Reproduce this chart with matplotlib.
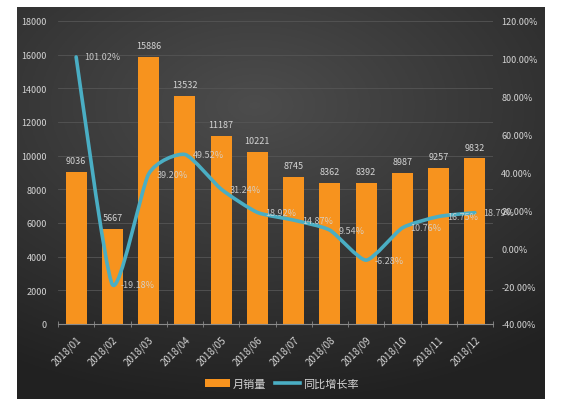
import numpy as np
import matplotlib
matplotlib.use("Agg")
import matplotlib.pyplot as plt
from matplotlib.path import Path
from matplotlib.patches import PathPatch, Patch
from matplotlib.lines import Line2D

plt.rcParams["font.family"] = ["Noto Sans CJK SC", "DejaVu Sans"]

months = ["2018/01", "2018/02", "2018/03", "2018/04", "2018/05", "2018/06",
          "2018/07", "2018/08", "2018/09", "2018/10", "2018/11", "2018/12"]
sales = [9036, 5667, 15886, 13532, 11187, 10221, 8745, 8362, 8392, 8987, 9257, 9832]
growth = [101.02, -19.18, 39.20, 49.52, 31.24, 18.92, 14.87, 9.54, -6.28, 10.76, 16.75, 18.79]

BAR = "#f7931e"
LINE = "#4aaec4"
TXT = "#d4d4d4"


def smooth_path(xs, ys, t=0.3):
    """Catmull-Rom style bezier through the points (like Excel's smoothed line)."""
    xs = np.asarray(xs, float)
    ys = np.asarray(ys, float)
    verts = [(xs[0], ys[0])]
    codes = [Path.MOVETO]
    n = len(xs)
    for i in range(n - 1):
        p0 = (xs[max(i - 1, 0)], ys[max(i - 1, 0)])
        p1 = (xs[i], ys[i])
        p2 = (xs[i + 1], ys[i + 1])
        p3 = (xs[min(i + 2, n - 1)], ys[min(i + 2, n - 1)])
        c1 = (p1[0] + (p2[0] - p0[0]) * t / 3, p1[1] + (p2[1] - p0[1]) * t / 3)
        c2 = (p2[0] - (p3[0] - p1[0]) * t / 3, p2[1] - (p3[1] - p1[1]) * t / 3)
        verts += [c1, c2, p2]
        codes += [Path.CURVE4] * 3
    return Path(verts, codes)


fig = plt.figure(figsize=(5.69, 4.06), dpi=100)
fig.patch.set_facecolor("white")

# dark panel with gradient
bg = fig.add_axes([17 / 569, 1 - 400 / 406, (545 - 17) / 569, (400 - 8) / 406])
gy, gx = np.mgrid[0:1:200j, 0:1:200j]
r = np.sqrt(((gx - 0.45) * 1.1) ** 2 + ((gy - 0.25) * 1.3) ** 2)
val = 0.30 - 0.17 * np.clip(r, 0, 1)
bg.imshow(np.dstack([val, val, val]), aspect="auto", extent=[0, 1, 0, 1], origin="upper")
bg.set_axis_off()

ax = fig.add_axes([58 / 569, 1 - 325 / 406, (493 - 58) / 569, (325 - 22) / 406])
ax.patch.set_alpha(0)
x = np.arange(len(months))
ax.bar(x, sales, width=0.58, color=BAR, zorder=2)
ax.set_xlim(-0.5, len(months) - 0.5)
ax.set_ylim(0, 18000)
ax.set_yticks(np.arange(0, 18001, 2000))
ax.grid(axis="y", color="#555555", linewidth=0.6, zorder=0)
for s in ["top", "right", "left"]:
    ax.spines[s].set_visible(False)
ax.spines["bottom"].set_color("#8a8a8a")
ax.tick_params(axis="y", length=0, colors=TXT, labelsize=6.5, pad=8)
ax.set_xticks(x)
ax.set_xticklabels(months, rotation=45, ha="right", rotation_mode="anchor")
ax.tick_params(axis="x", length=0, colors=TXT, labelsize=7, pad=7)
ax.set_xticks(np.arange(-0.5, len(months)), minor=True)
ax.tick_params(axis="x", which="minor", length=4, direction="inout", color="#8a8a8a")
for xi, v in zip(x, sales):
    ax.annotate(str(v), (xi, v), xytext=(0, 5), textcoords="offset points",
                ha="center", va="bottom", color=TXT, fontsize=6.5)

ax2 = ax.twinx()
ax2.set_ylim(-40, 120)
ax2.set_yticks(np.arange(-40, 121, 20))
ax2.set_yticklabels([f"{t:.2f}%" for t in np.arange(-40, 121, 20)])
ax2.tick_params(axis="y", length=0, colors=TXT, labelsize=6.5, pad=6)
for s in ax2.spines.values():
    s.set_visible(False)
ax2.add_patch(PathPatch(smooth_path(x, growth), facecolor="none", edgecolor=LINE,
                        linewidth=2.6, zorder=3, capstyle="round", joinstyle="round"))
for xi, v in zip(x, growth):
    ax2.annotate(f"{v:.2f}%", (xi, v), xytext=(6, 0), textcoords="offset points",
                 ha="left", va="center", color=TXT, fontsize=6.5, alpha=0.9, zorder=4)

handles = [Patch(facecolor=BAR, label="月销量"),
           Line2D([], [], color=LINE, linewidth=2.6, label="同比增长率")]
fig.legend(handles=handles, loc="center", bbox_to_anchor=(282 / 569, 1 - 385 / 406),
           ncol=2, frameon=False, fontsize=8, labelcolor=TXT, handlelength=2.2,
           handletextpad=0.3, columnspacing=0.8)

fig.savefig("out.png", dpi=100)
plt.close(fig)
